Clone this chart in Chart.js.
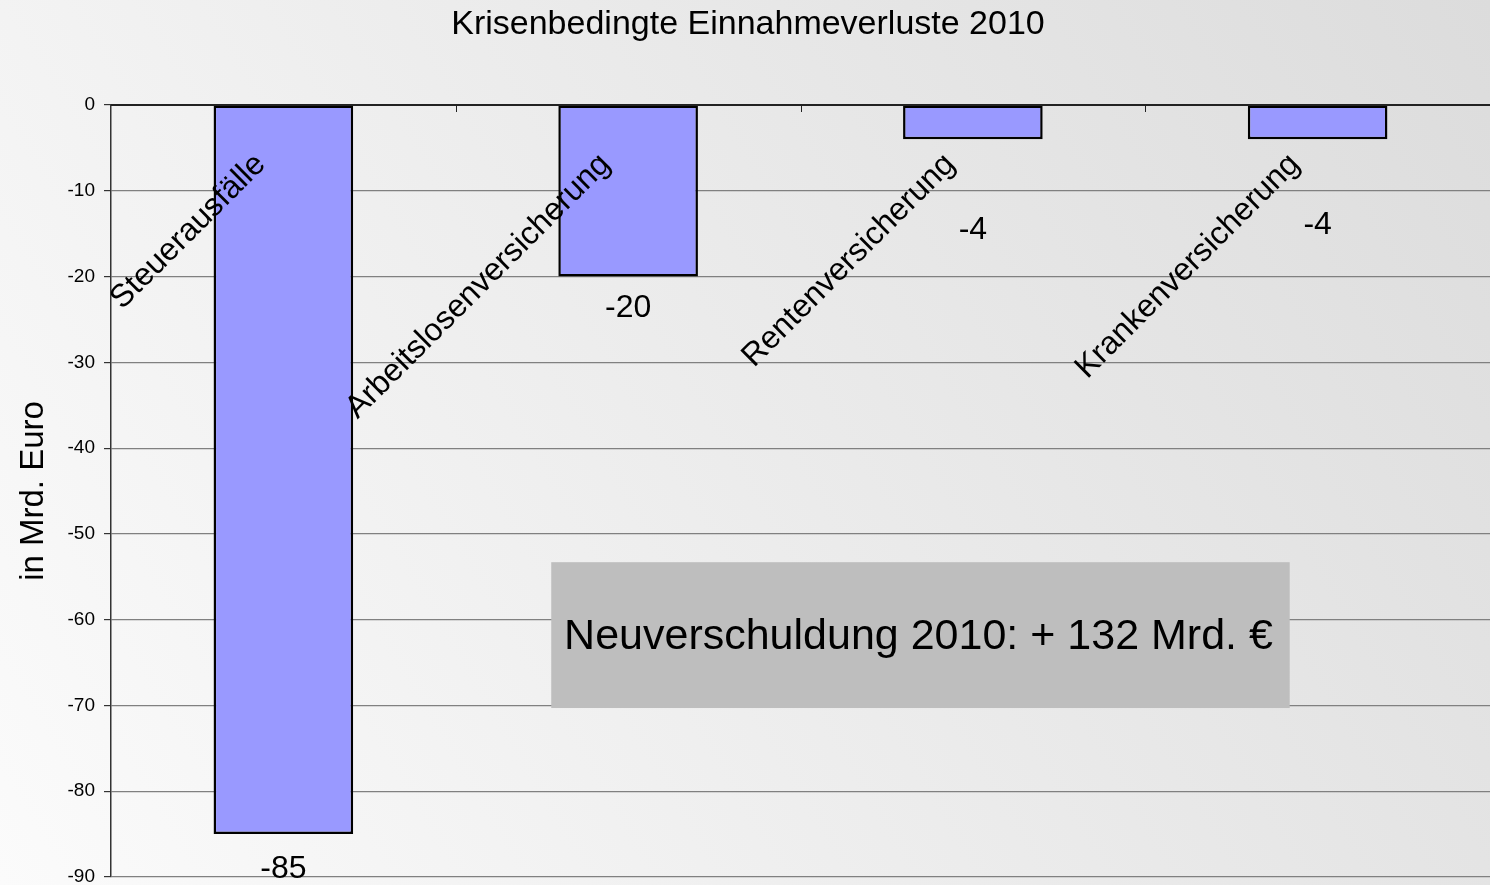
<!DOCTYPE html>
<html lang="de">
<head>
    <meta charset="UTF-8">
    <title>Krisenbedingte Einnahmeverluste 2010</title>
    <script src="https://cdn.jsdelivr.net/npm/chart.js"></script>
    <style>
        html, body {
            margin: 0;
            padding: 0;
            width: 1490px;
            height: 885px;
            overflow: hidden;
        }
        #wrap {
            width: 1490px;
            height: 885px;
        }
    </style>
</head>
<body>
    <div id="wrap"><canvas id="chart"></canvas></div>
    <script>
        const categories = ['Steuerausfälle', 'Arbeitslosenversicherung', 'Rentenversicherung', 'Krankenversicherung'];
        const values = [-85, -20, -4, -4];
        const yTicks = [0, -10, -20, -30, -40, -50, -60, -70, -80, -90];
        const noteText = 'Neuverschuldung 2010: + 132 Mrd. €';

        const FONT = "'Liberation Sans', Arial, sans-serif";

        // background gradient, drawn before everything
        const bgPlugin = {
            id: 'bg',
            beforeDraw(chart) {
                const c = chart.ctx;
                const g = c.createLinearGradient(0, chart.height, chart.width, 0);
                g.addColorStop(0, '#fbfbfb');
                g.addColorStop(1, '#dcdcdc');
                c.save();
                c.fillStyle = g;
                c.fillRect(0, 0, chart.width, chart.height);
                c.restore();
            }
        };

        // axis line at 0, category ticks, rotated labels, value labels, note box
        const decoPlugin = {
            id: 'deco',
            afterDatasetsDraw(chart, args, opts) {
                const c = chart.ctx;
                const x = chart.scales.x;
                const y = chart.scales.y;
                const area = chart.chartArea;
                const y0 = y.getPixelForValue(0);
                c.save();

                // zero line
                c.strokeStyle = '#222';
                c.lineWidth = 1.8;
                c.beginPath();
                c.moveTo(area.left, y0);
                c.lineTo(area.right, y0);
                c.stroke();

                // category boundary ticks
                c.lineWidth = 1;
                for (let i = 1; i < categories.length; i++) {
                    const px = Math.round((x.getPixelForValue(i - 1) + x.getPixelForValue(i)) / 2) + 0.5;
                    c.beginPath();
                    c.moveTo(px, y0);
                    c.lineTo(px, y0 + 7);
                    c.stroke();
                }

                // rotated category labels
                c.fillStyle = '#000';
                c.font = '32px ' + FONT;
                c.textAlign = 'right';
                c.textBaseline = 'top';
                categories.forEach((name, i) => {
                    const px = x.getPixelForValue(i);
                    c.save();
                    c.translate(px - 34, y0 + 43);
                    c.rotate(-Math.PI / 4);
                    c.fillText(name, 0, 0);
                    c.restore();
                });

                // value labels
                c.font = '32px ' + FONT;
                c.textAlign = 'center';
                c.textBaseline = 'middle';
                values.forEach((v, i) => {
                    const px = x.getPixelForValue(i);
                    const py = y.getPixelForValue(v) + opts.labelOffsets[i];
                    c.fillText(String(v), px, py);
                });

                // note box
                const bx1 = x.getPixelForValue(opts.box[0]);
                const bx2 = x.getPixelForValue(opts.box[1]);
                const by1 = y.getPixelForValue(opts.box[2]);
                const by2 = y.getPixelForValue(opts.box[3]);
                c.fillStyle = '#bebebe';
                c.fillRect(bx1, by1, bx2 - bx1, by2 - by1);
                c.fillStyle = '#000';
                c.font = '43px ' + FONT;
                c.fillText(noteText, (bx1 + bx2) / 2 - 2, (by1 + by2) / 2 + 2);

                c.restore();
            }
        };

        new Chart(document.getElementById('chart'), {
            type: 'bar',
            data: {
                labels: categories,
                datasets: [{
                    data: values,
                    backgroundColor: '#9999ff',
                    borderColor: '#000',
                    borderWidth: 2.5,
                    borderSkipped: false,
                    barPercentage: 0.405,
                    categoryPercentage: 1.0
                }]
            },
            options: {
                responsive: true,
                maintainAspectRatio: false,
                animation: false,
                layout: {
                    padding: { top: 105, bottom: 8, right: 0, left: 0 }
                },
                plugins: {
                    legend: { display: false },
                    tooltip: { enabled: false },
                    title: { display: false },
                    deco: {
                        labelOffsets: [35, 32, 91, 86],
                        box: [0.777, 2.919, -53.3, -70.3]
                    }
                },
                scales: {
                    x: {
                        display: false,
                        offset: true
                    },
                    y: {
                        min: -90,
                        max: 0,
                        afterBuildTicks(scale) {
                            scale.ticks = yTicks.map(v => ({ value: v }));
                        },
                        afterFit(scale) {
                            scale.width = 111;
                            scale.paddingTop = 0;
                            scale.paddingBottom = 0;
                        },
                        ticks: {
                            color: '#000',
                            font: { family: FONT, size: 19 },
                            padding: 9
                        },
                        grid: {
                            color: '#808080',
                            lineWidth: 1.2,
                            tickLength: 7,
                            tickColor: '#333'
                        },
                        border: {
                            color: '#333',
                            width: 1.5
                        },
                        title: {
                            display: true,
                            text: 'in Mrd. Euro',
                            color: '#000',
                            font: { family: FONT, size: 33 },
                            padding: { top: 14, bottom: 0 }
                        }
                    }
                }
            },
            plugins: [bgPlugin, decoPlugin, {
                id: 'mainTitle',
                afterDraw(chart) {
                    const c = chart.ctx;
                    c.save();
                    c.fillStyle = '#000';
                    c.font = '34px ' + FONT;
                    c.textAlign = 'center';
                    c.textBaseline = 'middle';
                    c.fillText('Krisenbedingte Einnahmeverluste 2010', 748, 25);
                    c.restore();
                }
            }]
        });
    </script>
</body>
</html>
